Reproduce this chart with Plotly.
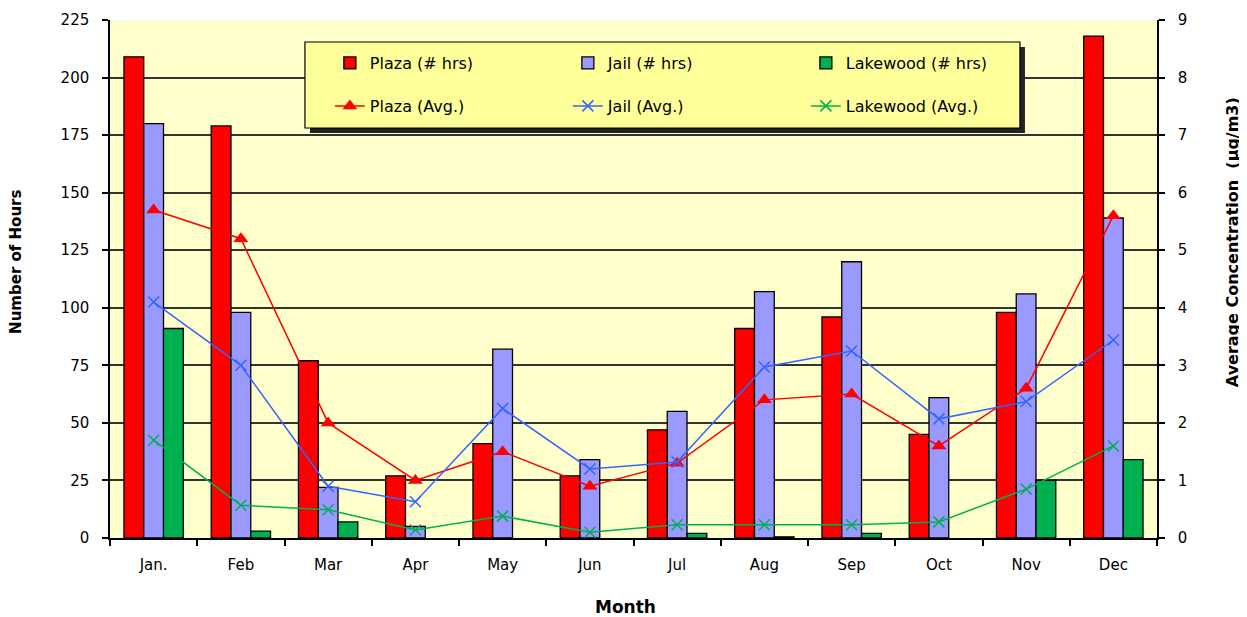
import plotly.graph_objects as go

months = ["Jan.", "Feb", "Mar", "Apr", "May", "Jun", "Jul", "Aug", "Sep", "Oct", "Nov", "Dec"]

plaza_hrs = [209, 179, 77, 27, 41, 27, 47, 91, 96, 45, 98, 218]
jail_hrs = [180, 98, 22, 5, 82, 34, 55, 107, 120, 61, 106, 139]
lakewood_hrs = [91, 3, 7, 0, 0, 0, 2, 0.5, 2, 0, 25, 34]

plaza_avg = [5.7, 5.2, 2.0, 1.0, 1.5, 0.9, 1.3, 2.4, 2.5, 1.6, 2.6, 5.6]
jail_avg = [4.1, 3.0, 0.9, 0.63, 2.25, 1.2, 1.32, 2.97, 3.25, 2.07, 2.37, 3.44]
lakewood_avg = [1.7, 0.57, 0.49, 0.14, 0.38, 0.1, 0.23, 0.23, 0.23, 0.28, 0.85, 1.6]

left_ticks = list(range(0, 226, 25))
right_ticks = list(range(0, 10))

FONT = "DejaVu Sans"
RED = "#FF0000"
JAIL_BAR = "#9999FF"
JAIL_LINE = "#3366FF"
GREEN = "#00B050"


def nz(vals):
    # zero-hour months draw no bar at all (as in the original chart)
    return [v if v > 0 else None for v in vals]


fig = go.Figure()

bar_line = dict(color="black", width=1.3)
fig.add_trace(go.Bar(x=months, y=nz(plaza_hrs), name="Plaza (# hrs)", marker=dict(color=RED, line=bar_line), legend="legend"))
fig.add_trace(go.Bar(x=months, y=nz(jail_hrs), name="Jail (# hrs)", marker=dict(color=JAIL_BAR, line=bar_line), legend="legend"))
fig.add_trace(go.Bar(x=months, y=nz(lakewood_hrs), name="Lakewood (# hrs)", marker=dict(color=GREEN, line=bar_line), legend="legend"))

fig.add_trace(go.Scatter(x=months, y=plaza_avg, name="Plaza (Avg.)", yaxis="y2", mode="lines+markers",
                         line=dict(color=RED, width=1.5),
                         marker=dict(symbol="triangle-up", size=13, color=RED), legend="legend2"))
fig.add_trace(go.Scatter(x=months, y=jail_avg, name="Jail (Avg.)", yaxis="y2", mode="lines+markers",
                         line=dict(color=JAIL_LINE, width=1.5),
                         marker=dict(symbol="x-thin", size=11, color=JAIL_LINE, line=dict(color=JAIL_LINE, width=1.5)),
                         legend="legend2"))
fig.add_trace(go.Scatter(x=months, y=lakewood_avg, name="Lakewood (Avg.)", yaxis="y2", mode="lines+markers",
                         line=dict(color=GREEN, width=1.5),
                         marker=dict(symbol="x-thin", size=11, color=GREEN, line=dict(color=GREEN, width=1.5)),
                         legend="legend2"))

tickfont = dict(family=FONT, size=15, color="black")

# page body adds an 8px offset; margins compensate so the plot area lands at x 110-1157, y 20-538
fig.update_layout(
    width=1247, height=617,
    margin=dict(l=102, r=98, t=12, b=87, autoexpand=False),
    paper_bgcolor="white",
    plot_bgcolor="#FFFFCC",
    barmode="group",
    bargap=0.32,
    bargroupgap=0,
    xaxis=dict(
        type="category", range=[-0.5, len(months) - 0.5], automargin=False,
        showline=True, linecolor="black", linewidth=1.5,
        ticks="outside", ticklen=6, tickcolor="black", tickwidth=1.5,
        tickson="boundaries",
        tickfont=tickfont,
        ticklabelstandoff=12,
        showgrid=False,
    ),
    yaxis=dict(
        range=[0, 225], tickvals=left_ticks, automargin=False,
        showline=True, linecolor="black", linewidth=1.5,
        ticks="outside", ticklen=6, tickcolor="black", tickwidth=1.5,
        tickfont=tickfont,
        ticklabelstandoff=10,
        showgrid=True, gridcolor="#333333", gridwidth=1.5,
        zeroline=False,
    ),
    yaxis2=dict(
        range=[0, 9], tickvals=right_ticks, automargin=False,
        overlaying="y", side="right",
        showline=True, linecolor="black", linewidth=1.5,
        ticks="outside", ticklen=6, tickcolor="black", tickwidth=1.5,
        tickfont=tickfont,
        ticklabelstandoff=10,
        showgrid=False, zeroline=False,
    ),
    legend=dict(
        orientation="h", x=0.21, xanchor="left", y=0.917, yanchor="middle",
        bgcolor="rgba(0,0,0,0)", borderwidth=0,
        font=dict(family=FONT, size=16, color="black"),
        entrywidth=193, entrywidthmode="pixels",
        traceorder="normal",
    ),
    legend2=dict(
        orientation="h", x=0.21, xanchor="left", y=0.834, yanchor="middle",
        bgcolor="rgba(0,0,0,0)", borderwidth=0,
        font=dict(family=FONT, size=16, color="black"),
        entrywidth=193, entrywidthmode="pixels",
        traceorder="normal",
    ),
    annotations=[
        dict(text="Number of Hours", xref="paper", yref="paper", x=-0.0898, y=0.533,
             textangle=-90, showarrow=False, xanchor="center", yanchor="middle",
             font=dict(family=FONT, size=15, color="black", weight="bold")),
        dict(text="Average Concentration  (µg/m3)", xref="paper", yref="paper", x=1.0716, y=0.571,
             textangle=-90, showarrow=False, xanchor="center", yanchor="middle",
             font=dict(family=FONT, size=16, color="black", weight="bold")),
        dict(text="Month", xref="paper", yref="paper", x=0.4928, y=-0.1332,
             showarrow=False, xanchor="center", yanchor="middle",
             font=dict(family=FONT, size=17, color="black", weight="bold")),
    ],
    shapes=[
        dict(type="rect", xref="paper", yref="paper",
             x0=0.1862 + 5 / 1047, x1=0.8691 + 5 / 1047, y0=0.7915 - 5 / 518, y1=0.9575 - 5 / 518,
             fillcolor="#222222", line=dict(width=0), layer="above"),
        dict(type="rect", xref="paper", yref="paper",
             x0=0.1862, x1=0.8691, y0=0.7915, y1=0.9575,
             fillcolor="#FFFF99", line=dict(color="black", width=1.2), layer="above"),
    ],
)

fig.write_html("out.html")
